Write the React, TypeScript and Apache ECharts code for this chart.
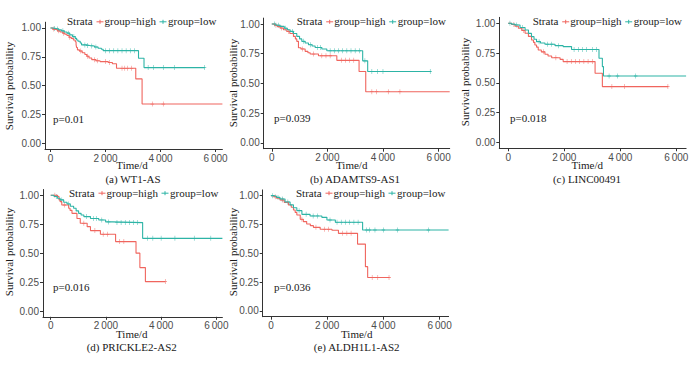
import React, { useEffect, useRef } from "react";
import * as echarts from "echarts";

// ---------- data ----------
const timeTicks = [0, 2000, 4000, 6000];
const probTicks = [0, 0.25, 0.5, 0.75, 1];
const panelTitles = ["(a) WT1-AS", "(b) ADAMTS9-AS1", "(c) LINC00491", "(d) PRICKLE2-AS2", "(e) ALDH1L1-AS2"];
const pValues = ["p=0.01", "p=0.039", "p=0.018", "p=0.016", "p=0.036"];
const strataLabels = ["group=high", "group=low"];

// (a) WT1-AS
const aHigh = [[0,1],[80,0.99],[150,0.985],[250,0.975],[350,0.965],[450,0.955],[520,0.945],[600,0.935],[680,0.92],[750,0.91],[830,0.895],[900,0.88],[930,0.855],[950,0.83],[980,0.81],[1050,0.8],[1150,0.785],[1250,0.77],[1320,0.755],[1400,0.74],[1500,0.725],[1650,0.715],[1800,0.708],[2100,0.7],[2250,0.69],[2400,0.65],[3100,0.558],[3330,0.34],[6250,0.34]];
const aHighCens = [[120,0.99],[300,0.975],[480,0.955],[700,0.92],[1100,0.8],[1350,0.755],[1600,0.725],[1700,0.715],[2000,0.708],[2150,0.7],[2600,0.65],[2700,0.65],[2800,0.65],[2950,0.65],[3700,0.34],[4100,0.34]];
const aLow = [[0,1],[100,0.995],[200,0.99],[300,0.983],[400,0.975],[500,0.965],[600,0.955],[700,0.94],[800,0.925],[900,0.91],[950,0.896],[1000,0.885],[1080,0.87],[1130,0.853],[1300,0.848],[1430,0.844],[1600,0.835],[1730,0.824],[1850,0.815],[1915,0.803],[3200,0.737],[3400,0.656],[5610,0.656]];
const aLowCens = [[150,0.995],[250,0.99],[450,0.975],[650,0.955],[850,0.925],[1250,0.853],[1350,0.848],[1500,0.844],[1650,0.835],[2000,0.803],[2150,0.803],[2300,0.803],[2450,0.803],[2600,0.803],[2750,0.803],[2900,0.803],[3050,0.803],[3550,0.656],[3750,0.656],[4100,0.656],[4500,0.656],[5600,0.656]];

// (b) ADAMTS9-AS1
const bHigh = [[0,1],[100,0.99],[200,0.978],[300,0.966],[420,0.952],[540,0.938],[650,0.92],[780,0.896],[850,0.875],[900,0.854],[960,0.8],[1050,0.79],[1200,0.77],[1300,0.758],[1380,0.747],[1680,0.733],[2340,0.694],[3140,0.6],[3380,0.43],[6400,0.43]];
const bHighCens = [[150,0.99],[350,0.966],[600,0.938],[1100,0.79],[1500,0.747],[1800,0.733],[1950,0.733],[2100,0.733],[2500,0.694],[2650,0.694],[2800,0.694],[2950,0.694],[3600,0.43],[3770,0.43],[4190,0.43],[4610,0.43]];
const bLow = [[0,1],[150,0.99],[300,0.98],[450,0.965],[560,0.952],[660,0.938],[780,0.92],[900,0.896],[1000,0.875],[1080,0.854],[1200,0.84],[1320,0.826],[1450,0.815],[1560,0.803],[1800,0.79],[1980,0.775],[3270,0.69],[3450,0.6],[5730,0.6]];
const bLowCens = [[100,1],[250,0.99],[500,0.965],[750,0.938],[1150,0.854],[1400,0.826],[1650,0.803],[1750,0.803],[2100,0.775],[2250,0.775],[2400,0.775],[2550,0.775],[2700,0.775],[2850,0.775],[3000,0.775],[3150,0.775],[3350,0.69],[3600,0.6],[3800,0.6],[4000,0.6],[5700,0.6]];

// (c) LINC00491
const cHigh = [[0,1],[120,0.99],[240,0.975],[360,0.958],[480,0.94],[600,0.916],[720,0.89],[830,0.86],[900,0.84],[950,0.818],[1010,0.8],[1070,0.776],[1180,0.76],[1310,0.74],[1420,0.725],[1550,0.711],[1850,0.697],[1960,0.678],[3100,0.58],[3360,0.468],[5710,0.468]];
const cHighCens = [[200,0.99],[550,0.94],[1250,0.76],[1700,0.711],[2100,0.678],[2250,0.678],[2400,0.678],[2550,0.678],[2700,0.678],[2850,0.678],[3000,0.678],[3700,0.468],[4150,0.468],[5700,0.468]];
const cLow = [[0,1],[120,0.993],[240,0.986],[420,0.965],[600,0.944],[720,0.915],[830,0.888],[920,0.866],[1010,0.846],[1150,0.835],[1310,0.824],[1670,0.812],[1960,0.804],[2260,0.78],[3240,0.706],[3360,0.636],[3400,0.557],[6350,0.557]];
const cLowCens = [[60,1],[300,0.986],[500,0.965],[1100,0.846],[1400,0.824],[1550,0.824],[1800,0.812],[2350,0.78],[2500,0.78],[2650,0.78],[2800,0.78],[3000,0.78],[3150,0.78],[3600,0.557],[3900,0.557],[4550,0.557]];

// (d) PRICKLE2-AS2
const dHigh = [[0,1],[250,0.99],[300,0.96],[340,0.945],[400,0.916],[650,0.888],[700,0.87],[770,0.844],[950,0.8],[1070,0.758],[1320,0.729],[1440,0.695],[1800,0.663],[2350,0.6],[3090,0.5],[3230,0.375],[3430,0.254],[4150,0.254]];
const dHighCens = [[150,1],[500,0.916],[1200,0.758],[1600,0.695],[1900,0.663],[2050,0.663],[2500,0.6],[2650,0.6],[4150,0.254]];
const dLow = [[0,1],[120,0.99],[240,0.975],[340,0.96],[470,0.94],[590,0.925],[710,0.905],[830,0.888],[920,0.865],[1010,0.844],[1100,0.83],[1200,0.816],[1440,0.8],[1740,0.787],[1990,0.77],[2230,0.764],[3330,0.628],[6220,0.628]];
const dLowCens = [[200,0.99],[400,0.96],[650,0.925],[1300,0.816],[1550,0.8],[1650,0.8],[1850,0.787],[2100,0.77],[2400,0.764],[2550,0.764],[2700,0.764],[2850,0.764],[3000,0.764],[3150,0.764],[3500,0.628],[3700,0.628],[4000,0.628],[4500,0.628],[5200,0.628],[5800,0.628]];

// (e) ALDH1L1-AS2
const eHigh = [[0,1],[100,0.99],[200,0.978],[320,0.962],[470,0.942],[620,0.92],[720,0.9],[800,0.876],[860,0.855],[920,0.832],[1040,0.795],[1150,0.775],[1270,0.754],[1400,0.74],[1510,0.725],[1750,0.708],[2170,0.7],[2400,0.673],[3080,0.58],[3360,0.384],[3440,0.29],[4210,0.29]];
const eHighCens = [[150,0.99],[400,0.962],[1100,0.795],[1600,0.725],[1900,0.708],[2050,0.708],[2550,0.673],[2700,0.673],[2850,0.673],[3600,0.29],[3800,0.29],[4200,0.29]];
const eLow = [[0,1],[100,0.995],[200,0.985],[320,0.971],[500,0.945],[680,0.92],[800,0.895],[920,0.87],[1100,0.838],[1390,0.824],[1810,0.812],[1990,0.789],[2290,0.769],[3260,0.702],[6320,0.702]];
const eLowCens = [[50,1],[250,0.985],[400,0.971],[600,0.945],[1000,0.87],[1250,0.838],[1500,0.824],[1650,0.824],[2100,0.789],[2350,0.769],[2500,0.769],[2650,0.769],[2800,0.769],[2950,0.769],[3100,0.769],[3400,0.702],[3500,0.702],[3700,0.702],[4000,0.702],[4500,0.702],[5600,0.702]];

const highCurves = [aHigh, bHigh, cHigh, dHigh, eHigh];
const lowCurves = [aLow, bLow, cLow, dLow, eLow];
const highCensored = [aHighCens, bHighCens, cHighCens, dHighCens, eHighCens];
const lowCensored = [aLowCens, bLowCens, cLowCens, dLowCens, eLowCens];

// ---------- layout / style ----------
const RED = "#F0655E";
const TEAL = "#2DB4A6";
const SERIF = "'Liberation Serif', 'Times New Roman', serif";
const SANS = "'Liberation Sans', Arial, sans-serif";
const PLUS = "path://M-0.16,-1H0.16V-0.16H1V0.16H0.16V1H-0.16V0.16H-1V-0.16H-0.16Z";

const layouts = [
  { left: 45, top: 22.2, width: 177.4, height: 126.8, xMin: -200, xMax: 6250, lx: 67, ly: 21.3, pX: 53, pY: 119, nX: 9.3, nY: 86, tX: 132, tY: 165, cX: 133, cY: 179 },
  { left: 263.7, top: 18.1, width: 186, height: 130.6, xMin: -290, xMax: 6400, lx: 296.7, ly: 21.3, pX: 274, pY: 118, nX: 232.7, nY: 83, tX: 351.7, tY: 165.3, cX: 355, cY: 179 },
  { left: 499.3, top: 17.35, width: 186.8, height: 130.9, xMin: -320, xMax: 6350, lx: 532.7, ly: 21.3, pX: 510, pY: 117.7, nX: 465, nY: 82, tX: 587.3, tY: 165, cX: 587, cY: 179 },
  { left: 43, top: 189.5, width: 179.4, height: 127.3, xMin: -280, xMax: 6220, lx: 69, ly: 192.7, pX: 53, pY: 287.3, nX: 9.3, nY: 252, tX: 131.7, tY: 334, cX: 131.7, cY: 346.7 },
  { left: 262.7, top: 189.9, width: 185.9, height: 126.8, xMin: -295, xMax: 6320, lx: 296, ly: 192.7, pX: 274, pY: 287.3, nX: 232.7, nY: 252, tX: 356.7, tY: 334, cX: 356.7, cY: 346.7 },
];

function fmtThousands(v: number) {
  if (v === 0) return "0";
  const s = String(v);
  return s.slice(0, s.length - 3) + "\u2009" + s.slice(s.length - 3);
}

function txt(text: string, x: number, y: number, extra: any = {}, styleExtra: any = {}) {
  return {
    type: "text",
    x,
    y,
    silent: true,
    ...extra,
    style: { text, fill: "#1a1a1a", font: `11px ${SERIF}`, align: "left", verticalAlign: "middle", ...styleExtra },
  };
}

export default function App() {
  const ref = useRef<HTMLDivElement>(null);
  useEffect(() => {
    const chart = echarts.init(ref.current!, null, { renderer: "svg" });
    const grid: any[] = [];
    const xAxis: any[] = [];
    const yAxis: any[] = [];
    const series: any[] = [];
    const graphic: any[] = [];
    const axisColor = "#333";

    layouts.forEach((L, i) => {
      grid.push({ left: L.left, top: L.top, width: L.width, height: L.height, containLabel: false });
      xAxis.push({
        type: "value", gridIndex: i, min: L.xMin, max: L.xMax,
        axisLine: { show: true, onZero: false, lineStyle: { color: axisColor, width: 1 } },
        axisTick: { show: true, customValues: timeTicks, length: 3, lineStyle: { color: axisColor } },
        axisLabel: { customValues: timeTicks, formatter: (v: number) => fmtThousands(v), fontSize: 10, fontFamily: SANS, color: "#4d4d4d", margin: 4 },
        splitLine: { show: false },
      });
      yAxis.push({
        type: "value", gridIndex: i, min: -0.05, max: 1.05,
        axisLine: { show: true, onZero: false, lineStyle: { color: axisColor, width: 1 } },
        axisTick: { show: true, customValues: probTicks, length: 3, lineStyle: { color: axisColor } },
        axisLabel: { customValues: probTicks, formatter: (v: number) => v.toFixed(2), fontSize: 10, fontFamily: SANS, color: "#4d4d4d", margin: 4 },
        splitLine: { show: false },
      });
      const curves = [highCurves[i], lowCurves[i]];
      const cens = [highCensored[i], lowCensored[i]];
      [RED, TEAL].forEach((col, k) => {
        series.push({
          type: "line", name: strataLabels[k], xAxisIndex: i, yAxisIndex: i, data: curves[k], step: "end",
          showSymbol: false, symbol: "none", lineStyle: { color: col, width: 1.1 }, silent: true,
        });
        series.push({
          type: "scatter", xAxisIndex: i, yAxisIndex: i, data: cens[k], symbol: PLUS, symbolSize: [3.5, 5],
          itemStyle: { color: col }, silent: true,
        });
      });

      // legend
      graphic.push(txt("Strata", L.lx, L.ly));
      [[RED, 33, 37.5, strataLabels[0]], [TEAL, 96, 101, strataLabels[1]]].forEach(([col, mx, tx, lab]: any) => {
        graphic.push({ type: "line", silent: true, shape: { x1: L.lx + mx - 3.5, y1: L.ly + 0.5, x2: L.lx + mx + 3.5, y2: L.ly + 0.5 }, style: { stroke: col, lineWidth: 1 } });
        graphic.push({ type: "line", silent: true, shape: { x1: L.lx + mx, y1: L.ly - 1.5, x2: L.lx + mx, y2: L.ly + 2.5 }, style: { stroke: col, lineWidth: 1 } });
        graphic.push(txt(lab, L.lx + tx, L.ly));
      });
      // p-value
      graphic.push(txt(pValues[i], L.pX, L.pY));
      // y name
      graphic.push(txt("Survival probability", L.nX, L.nY, { rotation: Math.PI / 2 }, { align: "center" }));
      // x name
      graphic.push(txt("Time/d", L.tX, L.tY, {}, { align: "center" }));
      // caption
      graphic.push(txt(panelTitles[i], L.cX, L.cY, {}, { align: "center" }));
    });

    chart.setOption({
      animation: false,
      backgroundColor: "#ffffff",
      grid, xAxis, yAxis, series, graphic,
    });
    return () => chart.dispose();
  }, []);
  return <div ref={ref} style={{ position: "absolute", left: 0, top: 0, width: 700, height: 367, background: "#fff" }} />;
}
